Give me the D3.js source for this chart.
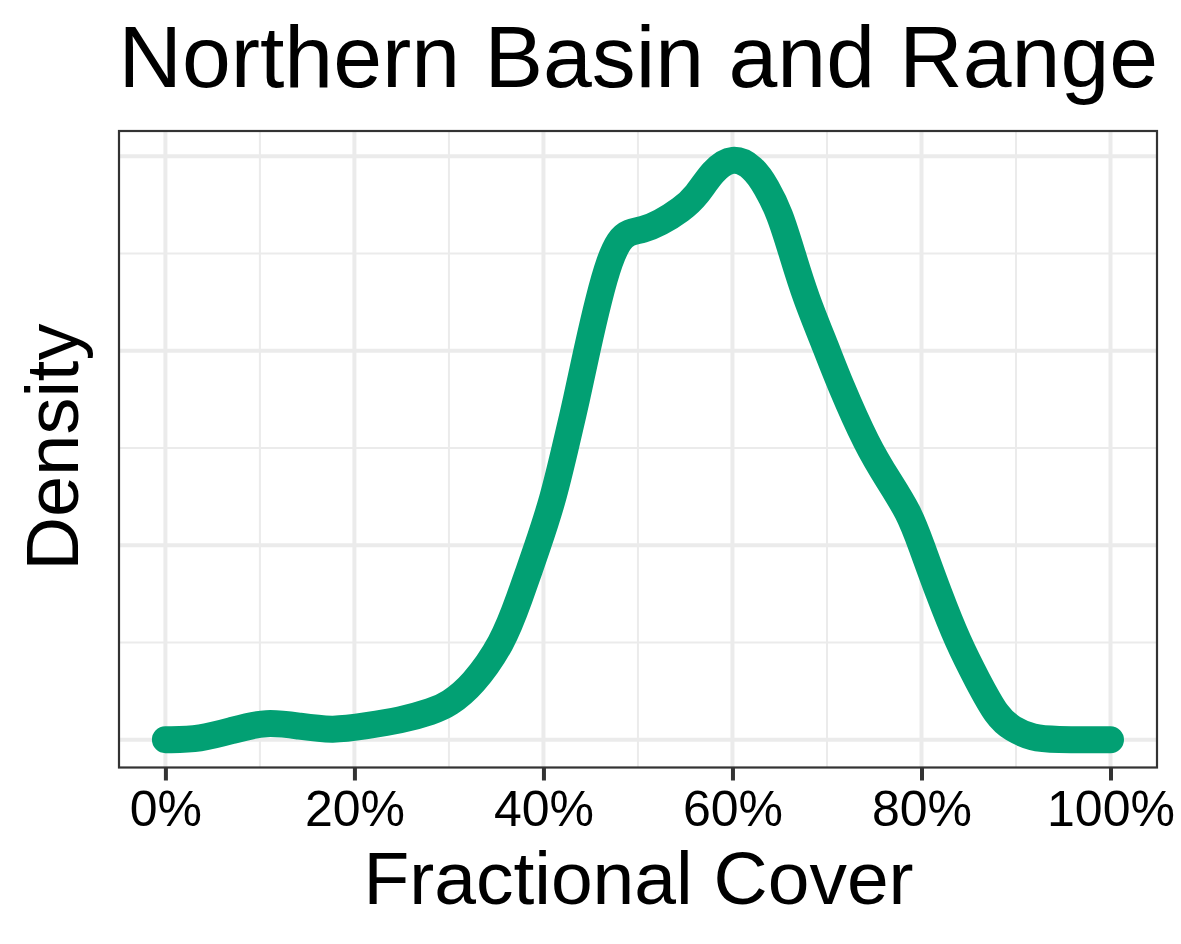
<!DOCTYPE html>
<html>
<head>
<meta charset="utf-8">
<script src="https://d3js.org/d3.v7.min.js"></script>
<style>
  html, body { margin: 0; padding: 0; background: #fff; }
  text { font-family: "Liberation Sans", sans-serif; fill: #000; }
</style>
</head>
<body>
<svg id="chart" width="1181" height="944"></svg>
<script>
const chartTitle = "Northern Basin and Range";
const xTitle = "Fractional Cover";
const yTitle = "Density";

const coverPct = [0, 0, 3.7, 7.2, 10.7, 14.2, 17.7, 21.3, 24.8, 28.3, 30, 32.5, 35.7, 37.4, 39.4, 41, 42.3, 43.5, 44.6, 45.9, 47, 48, 49, 50.5, 52.3, 54.6, 56.2, 57.9, 60, 62.2, 63.6, 65, 66.3, 67.7, 70, 71.2, 74.3, 76.5, 78.7, 79.9, 81.8, 83.9, 85.9, 88, 89.6, 91.8, 93.9, 100, 100];
const density = [0, 0, 0.00002, 0.0005, 0.00094, 0.00069, 0.00046, 0.00072, 0.00098, 0.00146, 0.00183, 0.00278, 0.00497, 0.00718, 0.00997, 0.01233, 0.015, 0.01747, 0.02004, 0.02278, 0.02465, 0.0257, 0.0261, 0.0262, 0.02655, 0.02725, 0.02795, 0.02925, 0.03, 0.02945, 0.02842, 0.02708, 0.02502, 0.02278, 0.02004, 0.01849, 0.01506, 0.01335, 0.01166, 0.01011, 0.00754, 0.00497, 0.00307, 0.00118, 0.00055, 0.00008, 0, 0, 0];

const xMajor = [0, 20, 40, 60, 80, 100];
const xMinor = [10, 30, 50, 70, 90];
const yMajor = [0, 0.01, 0.02, 0.03];
const yMinor = [0.005, 0.015, 0.025];

const panel = { left: 119, right: 1157, top: 131, bottom: 767.5 };

const x = d3.scaleLinear().domain([0, 100]).range([165.4, 1110.5]);
const y = d3.scaleLinear().domain([0, 0.03]).range([739.7, 156.2]);

const svg = d3.select("#chart");

const grid = svg.append("g");
grid.selectAll(".minor-x").data(xMinor).enter().append("line")
  .attr("x1", (d) => x(d)).attr("x2", (d) => x(d))
  .attr("y1", panel.top).attr("y2", panel.bottom)
  .attr("stroke", "#ebebeb").attr("stroke-width", 2);
grid.selectAll(".minor-y").data(yMinor).enter().append("line")
  .attr("x1", panel.left).attr("x2", panel.right)
  .attr("y1", (d) => y(d)).attr("y2", (d) => y(d))
  .attr("stroke", "#ebebeb").attr("stroke-width", 2);
grid.selectAll(".major-x").data(xMajor).enter().append("line")
  .attr("x1", (d) => x(d)).attr("x2", (d) => x(d))
  .attr("y1", panel.top).attr("y2", panel.bottom)
  .attr("stroke", "#ebebeb").attr("stroke-width", 4);
grid.selectAll(".major-y").data(yMajor).enter().append("line")
  .attr("x1", panel.left).attr("x2", panel.right)
  .attr("y1", (d) => y(d)).attr("y2", (d) => y(d))
  .attr("stroke", "#ebebeb").attr("stroke-width", 4);

const line = d3.line()
  .x((d, i) => x(coverPct[i]))
  .y((d) => y(d))
  .curve(d3.curveBasis);

svg.append("path")
  .attr("d", line(density))
  .attr("fill", "none")
  .attr("stroke", "#02a073")
  .attr("stroke-width", 27)
  .attr("stroke-linecap", "round")
  .attr("stroke-linejoin", "round");

svg.append("rect")
  .attr("x", panel.left).attr("y", panel.top)
  .attr("width", panel.right - panel.left)
  .attr("height", panel.bottom - panel.top)
  .attr("fill", "none")
  .attr("stroke", "#333")
  .attr("stroke-width", 2.2);

const xAxis = d3.axisBottom(x)
  .tickValues(xMajor)
  .tickFormat((d) => d + "%")
  .tickSize(13)
  .tickPadding(10);

const xAxisG = svg.append("g")
  .attr("transform", `translate(0,${panel.bottom})`)
  .call(xAxis);
xAxisG.select(".domain").remove();
xAxisG.selectAll(".tick line").attr("stroke", "#333").attr("stroke-width", 4);
xAxisG.selectAll(".tick text")
  .style("font-size", "50px")
  .style("fill", "#000");

svg.append("text")
  .attr("x", 638.5).attr("y", 904)
  .attr("text-anchor", "middle")
  .style("font-size", "75px")
  .text(xTitle);

svg.append("text")
  .attr("transform", "translate(78,447) rotate(-90)")
  .attr("text-anchor", "middle")
  .style("font-size", "74px")
  .text(yTitle);

svg.append("text")
  .attr("x", 118.5).attr("y", 87)
  .style("font-size", "87.8px")
  .text(chartTitle);
</script>
</body>
</html>
